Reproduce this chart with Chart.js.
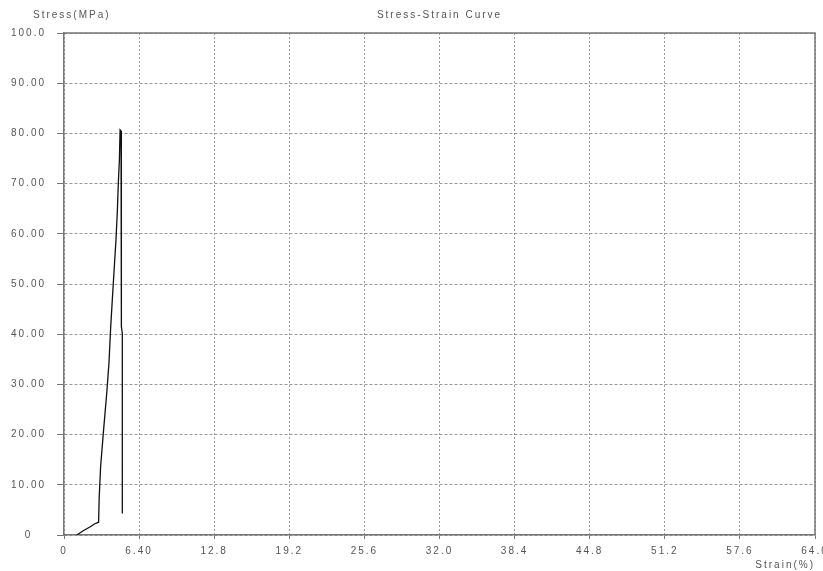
<!DOCTYPE html>
<html><head><meta charset="utf-8">
<script src="https://cdn.jsdelivr.net/npm/chart.js@4"></script>
<style>
html,body{margin:0;padding:0;background:#fff;overflow:hidden;width:823px;height:571px;}
#wrap{position:relative;width:840px;height:571px;}
#ylab{position:absolute;left:33px;top:9px;font:10px "Liberation Sans",Arial,sans-serif;letter-spacing:2px;color:#555;line-height:12px;white-space:nowrap;}
</style></head><body>
<div id="wrap"><canvas id="c" width="840" height="571"></canvas><div id="ylab"></div></div>
<script>
const chartTitle = 'Stress-Strain Curve';
const xAxisTitle = 'Strain(%)';
const yAxisTitle = 'Stress(MPa)';
const strain = [1.1, 1.6, 2.2, 2.6, 2.9, 2.95, 3.0, 3.12, 3.35, 3.64, 3.83, 3.98, 4.2, 4.43, 4.55, 4.63, 4.72, 4.78, 4.86, 4.89, 4.97, 4.97];
const stress = [0, 0.8, 1.6, 2.2, 2.5, 2.7, 7.5, 13.6, 20.3, 28.2, 34.2, 41.5, 50.1, 58.8, 64.7, 70.1, 74.7, 80.7, 80.5, 41.5, 40.2, 4.3];
const xTickValues = [0, 6.4, 12.8, 19.2, 25.6, 32.0, 38.4, 44.8, 51.2, 57.6, 64.0];
const xTickLabels = ['0', '6.40', '12.8', '19.2', '25.6', '32.0', '38.4', '44.8', '51.2', '57.6', '64.0'];
const yTickValues = [0, 10, 20, 30, 40, 50, 60, 70, 80, 90, 100];
const yTickLabels = ['0', '10.00', '20.00', '30.00', '40.00', '50.00', '60.00', '70.00', '80.00', '90.00', '100.0'];

document.getElementById('ylab').textContent = yAxisTitle;

const FONT = {family: '"Liberation Sans", Arial, sans-serif', size: 10};
const TEXT = '#555';

const spacing = {
  id: 'spacing',
  beforeUpdate(chart){ chart.ctx.letterSpacing = '2px'; },
  beforeDraw(chart){ chart.ctx.letterSpacing = '2px'; }
};
const frame = {
  id: 'frame',
  afterDatasetsDraw(chart){
    const {ctx, chartArea: a} = chart;
    ctx.save();
    ctx.strokeStyle = '#777';
    ctx.lineWidth = 1.5;
    ctx.setLineDash([]);
    ctx.beginPath();
    ctx.moveTo(a.left, a.top); ctx.lineTo(a.right, a.top); ctx.lineTo(a.right, a.bottom);
    ctx.stroke();
    ctx.restore();
  }
};

new Chart(document.getElementById('c'), {
  type: 'line',
  data: {
    datasets: [{
      data: strain.map((x, i) => ({x, y: stress[i]})),
      borderColor: '#111',
      borderWidth: 1.3,
      pointRadius: 0,
      tension: 0,
      fill: false
    }]
  },
  options: {
    responsive: false,
    animation: false,
    events: [],
    layout: {padding: {left: 0, right: 25, top: 0, bottom: 0}},
    plugins: {
      legend: {display: false},
      tooltip: {enabled: false},
      title: {
        display: true, text: chartTitle, fullSize: false, align: 'center',
        color: TEXT, font: {...FONT, weight: 'normal'}, padding: {top: 9, bottom: 12}
      }
    },
    scales: {
      x: {
        type: 'linear', min: 0, max: 64,
        afterBuildTicks(s){ s.ticks = xTickValues.map(v => ({value: v})); },
        afterFit(s){ s.height = 36; },
        ticks: {
          color: TEXT, font: FONT, padding: 6, maxRotation: 0, autoSkip: false,
          callback: (v, i) => xTickLabels[i]
        },
        grid: {color: '#999', lineWidth: 1, tickLength: 4, tickColor: '#777'},
        border: {display: true, color: '#777', width: 1.5, dash: [2, 2]},
        title: {display: true, text: xAxisTitle, align: 'end', color: TEXT, font: FONT, padding: {top: 3, bottom: 0}}
      },
      y: {
        min: 0, max: 100,
        afterBuildTicks(s){ s.ticks = yTickValues.map(v => ({value: v})); },
        afterFit(s){ s.width = 64; },
        ticks: {
          color: TEXT, font: FONT, padding: 11, crossAlign: 'center', autoSkip: false,
          callback: (v, i) => yTickLabels[i]
        },
        grid: {color: '#999', lineWidth: 1, tickLength: 7, tickColor: '#777'},
        border: {display: true, color: '#777', width: 1.5, dash: [3, 2]}
      }
    }
  },
  plugins: [spacing, frame]
});
</script>
</body></html>
